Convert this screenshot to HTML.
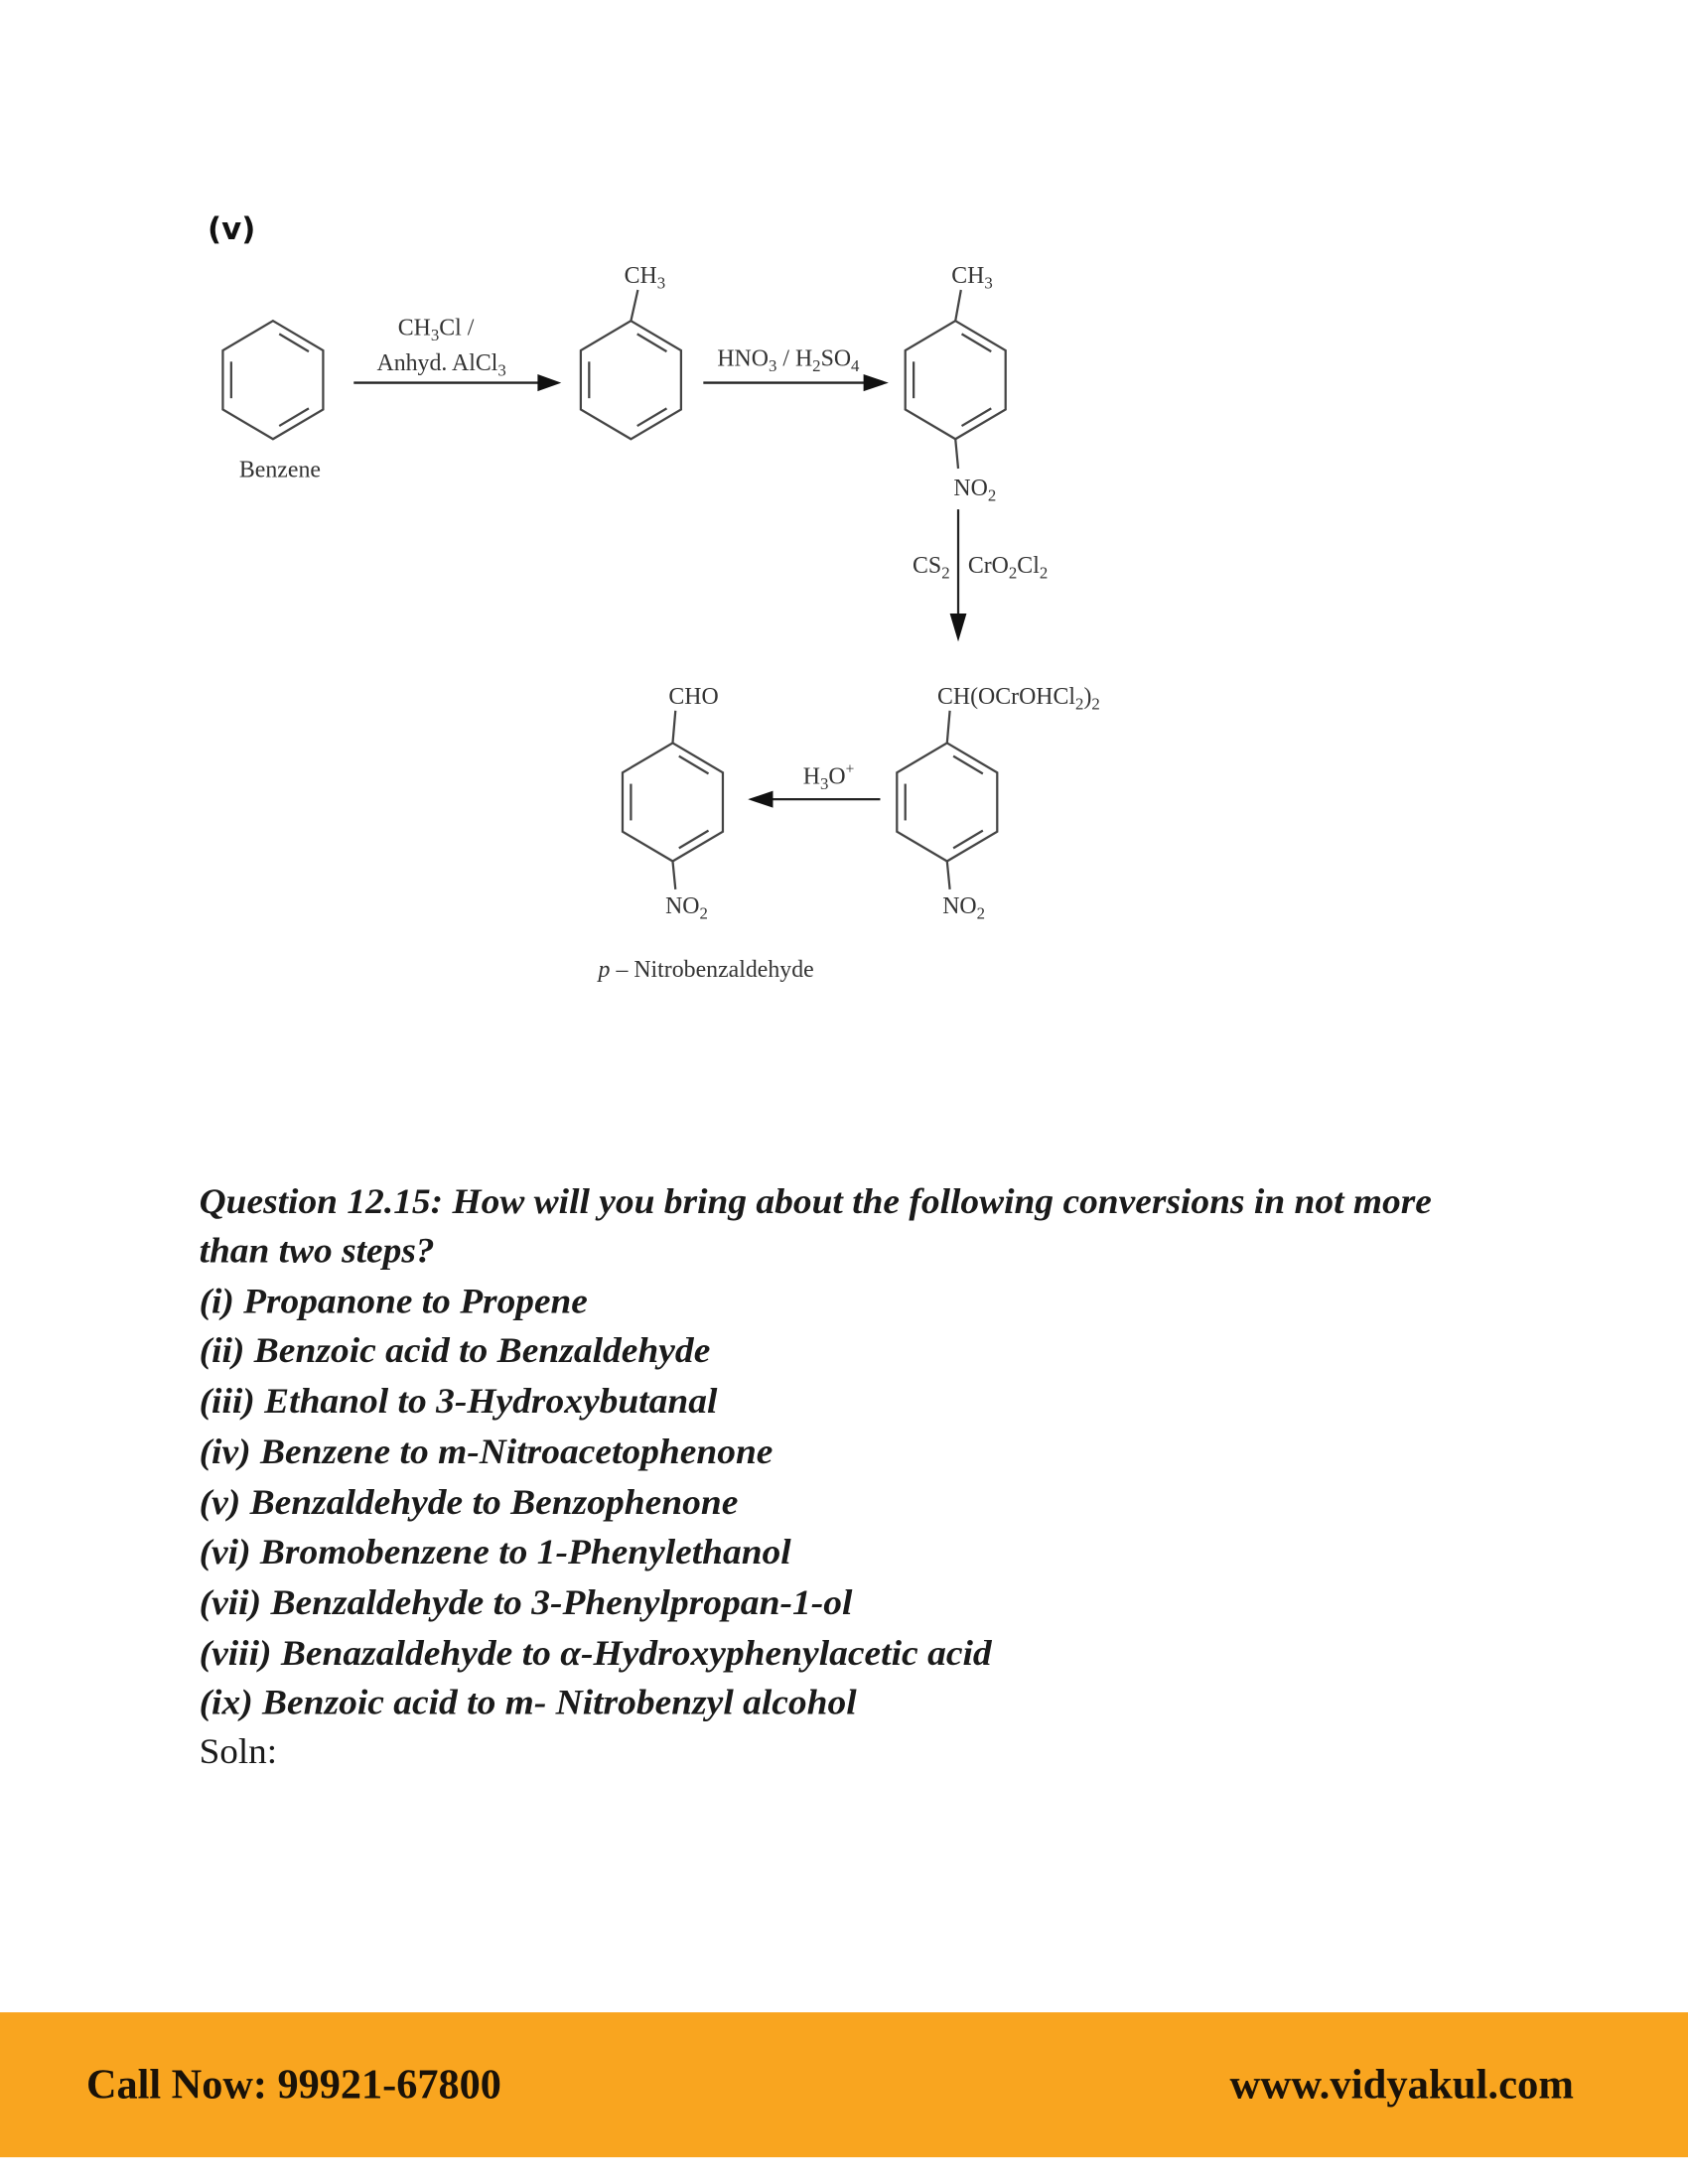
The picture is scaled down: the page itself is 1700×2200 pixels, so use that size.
<!DOCTYPE html>
<html><head><meta charset="utf-8"><style>
html,body{margin:0;padding:0;background:#fff;}
svg{display:block;}
.m{font-family:"Liberation Serif",serif;font-size:17px;fill:#333;}
.q{font-family:"Liberation Serif",serif;font-size:25px;font-weight:bold;font-style:italic;fill:#1a1a1a;}
</style></head><body>
<svg width="1700" height="2200" viewBox="0 0 1212 1552" preserveAspectRatio="none" xmlns="http://www.w3.org/2000/svg">
<defs>
<g id="hex" fill="none" stroke="#444" stroke-width="1.6">
<polygon points="0,-42 36,-21 36,21 0,42 -36,21 -36,-21"/>
<line x1="4.5" y1="-32.7" x2="25.7" y2="-20.2"/>
<line x1="-30" y1="-13" x2="-30" y2="13"/>
<line x1="25.7" y1="20.2" x2="4.5" y2="32.7"/>
</g>
</defs>
<text x="149" y="170" font-family="DejaVu Sans,sans-serif" font-weight="bold" font-size="22" fill="#111">(v)</text>

<use href="#hex" x="196" y="270"/>
<text class="m" x="201" y="339" text-anchor="middle">Benzene</text>

<line x1="254" y1="272" x2="388" y2="272" stroke="#222" stroke-width="1.6"/>
<polygon points="386,266 403,272 386,278" fill="#111"/>
<text class="m" x="313" y="238" text-anchor="middle">CH<tspan font-size="12" dy="4">3</tspan><tspan dy="-4">Cl /</tspan></text>
<text class="m" x="317" y="263" text-anchor="middle">Anhyd. AlCl<tspan font-size="12" dy="4">3</tspan></text>

<use href="#hex" x="453" y="270"/>
<line x1="453" y1="228" x2="458" y2="206" stroke="#444" stroke-width="1.6"/>
<text class="m" x="463" y="201" text-anchor="middle">CH<tspan font-size="12" dy="4">3</tspan></text>

<line x1="505" y1="272" x2="622" y2="272" stroke="#222" stroke-width="1.6"/>
<polygon points="620,266 638,272 620,278" fill="#111"/>
<text class="m" x="566" y="260" text-anchor="middle">HNO<tspan font-size="12" dy="4">3</tspan><tspan dy="-4"> / H</tspan><tspan font-size="12" dy="4">2</tspan><tspan dy="-4">SO</tspan><tspan font-size="12" dy="4">4</tspan></text>

<use href="#hex" x="686" y="270"/>
<line x1="686" y1="228" x2="690" y2="206" stroke="#444" stroke-width="1.6"/>
<text class="m" x="698" y="201" text-anchor="middle">CH<tspan font-size="12" dy="4">3</tspan></text>
<line x1="686" y1="312" x2="688" y2="333" stroke="#444" stroke-width="1.6"/>
<text class="m" x="700" y="352" text-anchor="middle">NO<tspan font-size="12" dy="4">2</tspan></text>

<line x1="688" y1="362" x2="688" y2="438" stroke="#222" stroke-width="1.6"/>
<polygon points="682,436 688,456 694,436" fill="#111"/>
<text class="m" x="682" y="407" text-anchor="end">CS<tspan font-size="12" dy="4">2</tspan></text>
<text class="m" x="695" y="407">CrO<tspan font-size="12" dy="4">2</tspan><tspan dy="-4">Cl</tspan><tspan font-size="12" dy="4">2</tspan></text>

<use href="#hex" x="680" y="570"/>
<line x1="680" y1="528" x2="682" y2="505" stroke="#444" stroke-width="1.6"/>
<text class="m" x="673" y="500">CH(OCrOHCl<tspan font-size="12" dy="4">2</tspan><tspan dy="-4">)</tspan><tspan font-size="12" dy="4">2</tspan></text>
<line x1="680" y1="612" x2="682" y2="632" stroke="#444" stroke-width="1.6"/>
<text class="m" x="692" y="649" text-anchor="middle">NO<tspan font-size="12" dy="4">2</tspan></text>

<line x1="632" y1="568" x2="552" y2="568" stroke="#222" stroke-width="1.6"/>
<polygon points="555,562 537,568 555,574" fill="#111"/>
<text class="m" x="595" y="557" text-anchor="middle">H<tspan font-size="12" dy="4">3</tspan><tspan dy="-4">O</tspan><tspan font-size="11" dy="-7">+</tspan></text>

<use href="#hex" x="483" y="570"/>
<line x1="483" y1="528" x2="485" y2="505" stroke="#444" stroke-width="1.6"/>
<text class="m" x="498" y="500" text-anchor="middle">CHO</text>
<line x1="483" y1="612" x2="485" y2="632" stroke="#444" stroke-width="1.6"/>
<text class="m" x="493" y="649" text-anchor="middle">NO<tspan font-size="12" dy="4">2</tspan></text>
<text class="m" x="507" y="694" text-anchor="middle"><tspan font-style="italic">p</tspan> – Nitrobenzaldehyde</text>

<g transform="translate(0,-6)">
<text class="q" x="143" y="868" textLength="885" lengthAdjust="spacingAndGlyphs">Question 12.15: How will you bring about the following conversions in not more</text>
<text class="q" x="143" y="903" textLength="169" lengthAdjust="spacingAndGlyphs">than two steps?</text>
<text class="q" x="143" y="939" textLength="279" lengthAdjust="spacingAndGlyphs">(i) Propanone to Propene</text>
<text class="q" x="143" y="974" textLength="367" lengthAdjust="spacingAndGlyphs">(ii) Benzoic acid to Benzaldehyde</text>
<text class="q" x="143" y="1010" textLength="372" lengthAdjust="spacingAndGlyphs">(iii) Ethanol to 3-Hydroxybutanal</text>
<text class="q" x="143" y="1046" textLength="412" lengthAdjust="spacingAndGlyphs">(iv) Benzene to m-Nitroacetophenone</text>
<text class="q" x="143" y="1082" textLength="387" lengthAdjust="spacingAndGlyphs">(v) Benzaldehyde to Benzophenone</text>
<text class="q" x="143" y="1117" textLength="425" lengthAdjust="spacingAndGlyphs">(vi) Bromobenzene to 1-Phenylethanol</text>
<text class="q" x="143" y="1153" textLength="469" lengthAdjust="spacingAndGlyphs">(vii) Benzaldehyde to 3-Phenylpropan-1-ol</text>
<text class="q" x="143" y="1189" textLength="569" lengthAdjust="spacingAndGlyphs">(viii) Benazaldehyde to α-Hydroxyphenylacetic acid</text>
<text class="q" x="143" y="1224" textLength="472" lengthAdjust="spacingAndGlyphs">(ix) Benzoic acid to m- Nitrobenzyl alcohol</text>
<text x="143" y="1259" font-family="Liberation Serif,serif" font-size="25" fill="#1a1a1a" textLength="56" lengthAdjust="spacingAndGlyphs">Soln:</text>
</g>

<rect x="0" y="1430" width="1212" height="103" fill="#F9A51F"/>
<text x="62" y="1491" font-family="Liberation Serif,serif" font-size="30" font-weight="bold" fill="#1a1208" textLength="298" lengthAdjust="spacingAndGlyphs">Call Now: 99921-67800</text>
<text x="883" y="1491" font-family="Liberation Serif,serif" font-size="30" font-weight="bold" fill="#1a1208" textLength="247" lengthAdjust="spacingAndGlyphs">www.vidyakul.com</text>
</svg>
</body></html>
